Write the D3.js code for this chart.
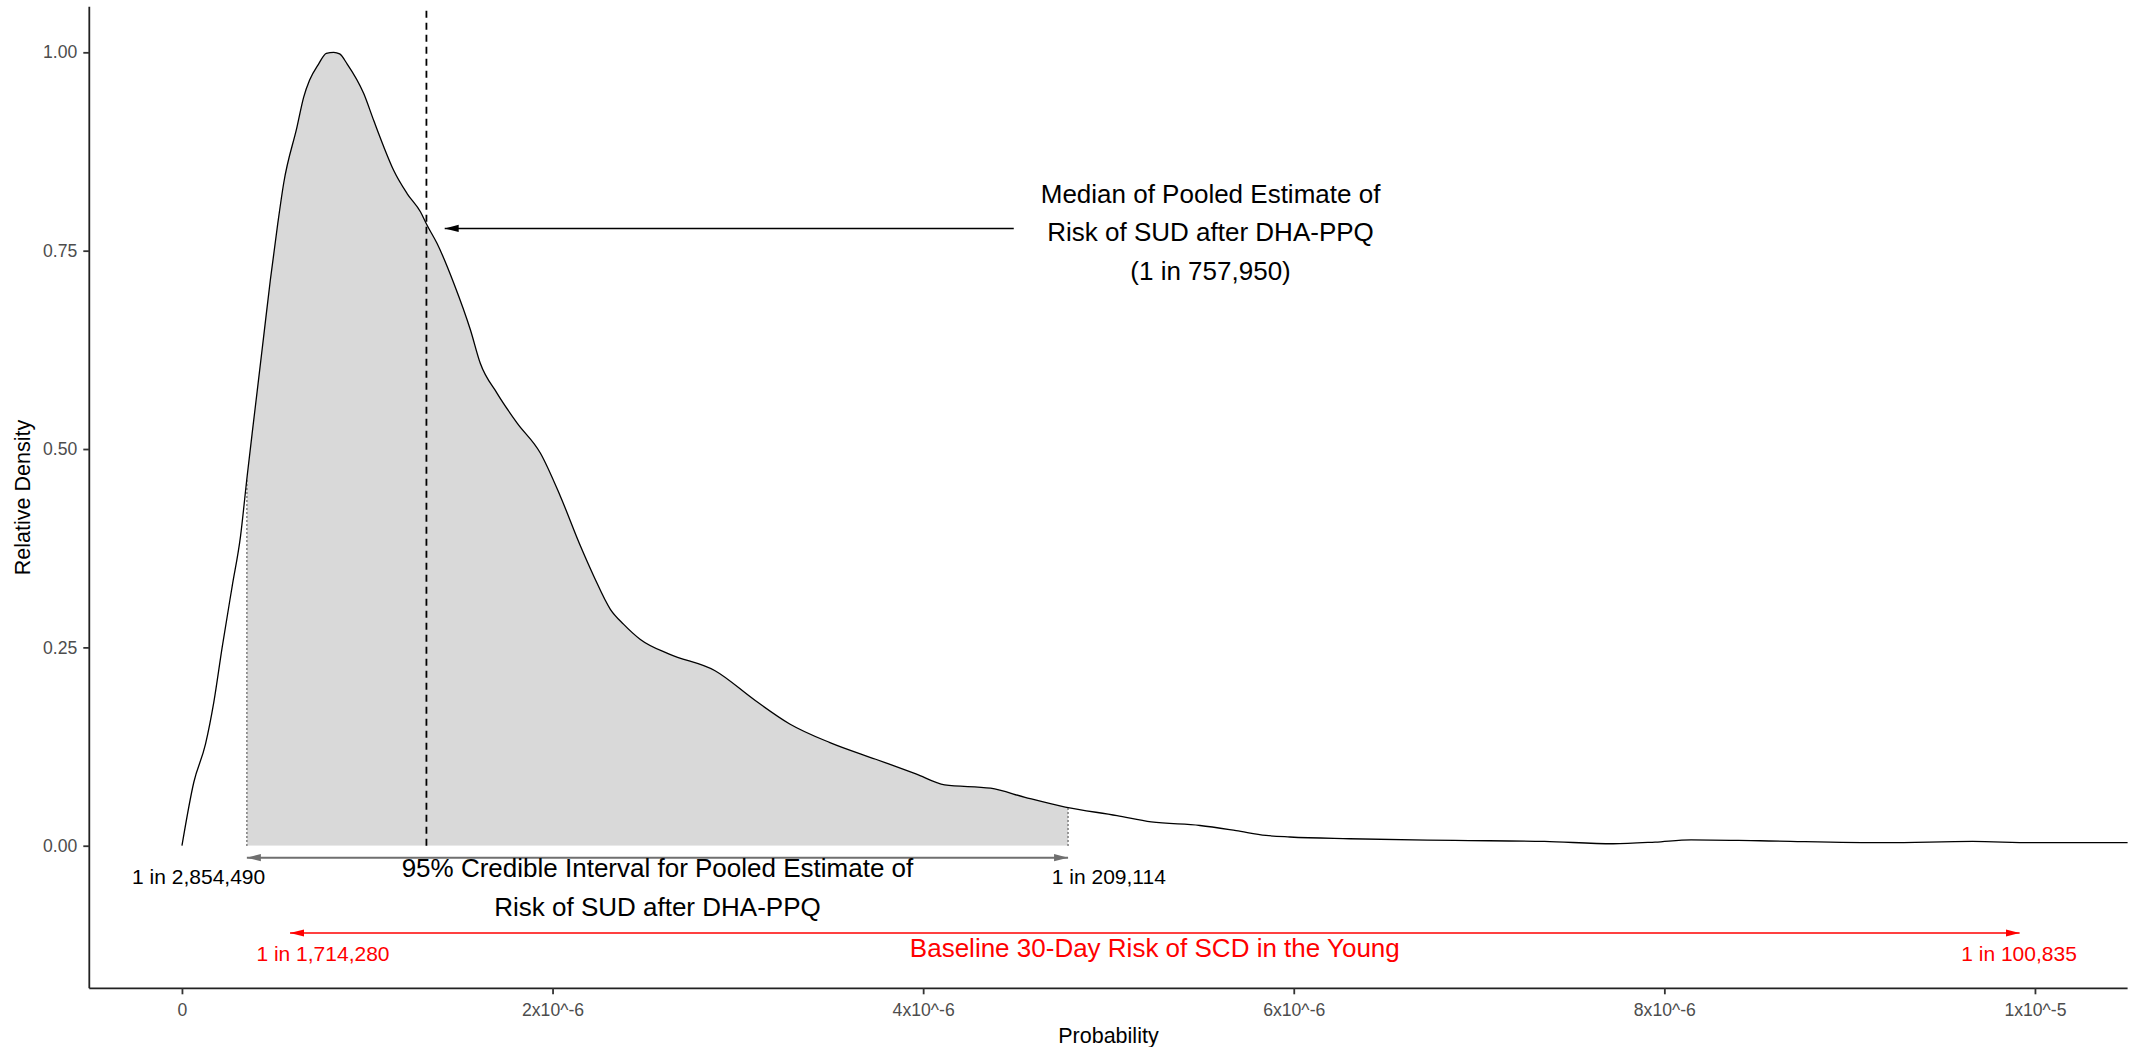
<!DOCTYPE html>
<html><head><meta charset="utf-8">
<script src="https://cdn.jsdelivr.net/npm/d3@7"></script>
<style>
body{margin:0;background:#fff}
svg{display:block}
text{font-family:"Liberation Sans",Arial,Helvetica,sans-serif}
</style>
</head><body>
<svg id="chart" width="2139" height="1047"></svg>
<script>
// ---- data ----
const probability = [0, 0.064e-6, 0.127e-6, 0.172e-6, 0.217e-6, 0.271e-6, 0.316e-6, 0.352e-6, 0.379e-6, 0.406e-6,
  0.441e-6, 0.477e-6, 0.517e-6, 0.549e-6, 0.621e-6, 0.657e-6, 0.689e-6, 0.738e-6, 0.779e-6, 0.819e-6, 0.851e-6, 0.891e-6, 0.981e-6,
  1.035e-6, 1.089e-6, 1.143e-6, 1.215e-6, 1.287e-6, 1.323e-6, 1.377e-6, 1.467e-6, 1.557e-6, 1.610e-6,
  1.700e-6, 1.808e-6, 1.934e-6, 2.042e-6, 2.150e-6, 2.222e-6, 2.312e-6, 2.384e-6, 2.474e-6, 2.630e-6,
  2.877e-6, 3.094e-6, 3.280e-6, 3.497e-6, 3.744e-6, 3.961e-6, 4.116e-6, 4.364e-6, 4.550e-6, 4.767e-6,
  5.046e-6, 5.231e-6, 5.494e-6, 5.689e-6, 5.850e-6, 5.979e-6, 6.302e-6, 6.868e-6, 7.353e-6, 7.724e-6,
  7.950e-6, 8.144e-6, 8.516e-6, 9.194e-6, 9.663e-6, 9.985e-6, 10.6e-6];
const relativeDensity = [0, 0.080, 0.128, 0.181, 0.250, 0.327, 0.390, 0.466, 0.520, 0.573,
  0.642, 0.713, 0.784, 0.835, 0.906, 0.9435, 0.965, 0.9855, 0.9987, 1.0, 0.998, 0.9855, 0.948,
  0.914, 0.881, 0.851, 0.822, 0.799, 0.782, 0.759, 0.709, 0.650, 0.608,
  0.5705, 0.533, 0.495, 0.4405, 0.378, 0.340, 0.298, 0.279, 0.260, 0.2415,
  0.2205, 0.183, 0.1535, 0.130, 0.109, 0.0905, 0.0767, 0.0725, 0.061, 0.0487,
  0.038, 0.030, 0.0255, 0.019, 0.013, 0.011, 0.0088, 0.0067, 0.0054, 0.0025,
  0.0046, 0.0075, 0.0063, 0.0038, 0.0054, 0.0038, 0.0038];

const xTickValues = [0, 2e-6, 4e-6, 6e-6, 8e-6, 1e-5];
const xTickLabels = ["0", "2x10^-6", "4x10^-6", "6x10^-6", "8x10^-6", "1x10^-5"];
const yTickValues = [0, 0.25, 0.5, 0.75, 1];
const yTickLabels = ["0.00", "0.25", "0.50", "0.75", "1.00"];

const medianRisk = 1 / 757950;
const ciLowerRisk = 1 / 2854490;
const ciUpperRisk = 1 / 209114;
const baselineLowRisk = 1 / 1714280;
const baselineHighRisk = 1 / 100835;

const medianLabel = ["Median of Pooled Estimate of", "Risk of SUD after DHA-PPQ", "(1 in 757,950)"];
const ciLabel = ["95% Credible Interval for Pooled Estimate of", "Risk of SUD after DHA-PPQ"];
const ciLowerLabel = "1 in 2,854,490";
const ciUpperLabel = "1 in 209,114";
const baselineLabel = "Baseline 30-Day Risk of SCD in the Young";
const baselineLowLabel = "1 in 1,714,280";
const baselineHighLabel = "1 in 100,835";
const xTitle = "Probability";
const yTitle = "Relative Density";

// ---- layout ----
const svg = d3.select("#chart");
const panel = {left: 89.3, right: 2127.6, top: 6.7, bottom: 988.3};
const x = d3.scaleLinear().domain([-0.5e-6, 10.5e-6]).range([panel.left, panel.right]);
const y = d3.scaleLinear().domain([-0.1797, 1.0575]).range([panel.bottom, panel.top]);

const pts = probability.map((p, i) => [p, relativeDensity[i]]);
function densityAt(p) {
  for (let i = 1; i < pts.length; i++) {
    if (p <= pts[i][0]) {
      const t = (p - pts[i-1][0]) / (pts[i][0] - pts[i-1][0]);
      return pts[i-1][1] + t * (pts[i][1] - pts[i-1][1]);
    }
  }
  return pts[pts.length-1][1];
}

const defs = svg.append("defs");
defs.append("clipPath").attr("id", "panelClip").append("rect")
  .attr("x", panel.left).attr("y", panel.top)
  .attr("width", panel.right - panel.left).attr("height", panel.bottom - panel.top);
defs.append("clipPath").attr("id", "ciClip").append("rect")
  .attr("x", x(ciLowerRisk)).attr("y", panel.top)
  .attr("width", x(ciUpperRisk) - x(ciLowerRisk)).attr("height", y(0) - panel.top);

function marker(id, color) {
  defs.append("marker").attr("id", id)
    .attr("viewBox", "0 -5 16 10").attr("refX", 14).attr("refY", 0)
    .attr("markerUnits", "userSpaceOnUse")
    .attr("markerWidth", 16).attr("markerHeight", 10)
    .attr("orient", "auto-start-reverse")
    .append("path").attr("d", "M0,-3.6L14,0L0,3.6Z").attr("fill", color);
}
marker("arrBlack", "#000");
marker("arrGrey", "#6f6f6f");
marker("arrRed", "#ff0000");

const g = svg.append("g").attr("clip-path", "url(#panelClip)");
const curve = d3.curveMonotoneX;

// shaded credible interval
g.append("path")
  .attr("clip-path", "url(#ciClip)")
  .attr("d", d3.area().curve(curve).x(d => x(d[0])).y0(y(0)).y1(d => y(d[1]))(pts))
  .attr("fill", "#d9d9d9");

// dotted CI bounds
[ciLowerRisk, ciUpperRisk].forEach(p => {
  g.append("line")
    .attr("x1", x(p)).attr("x2", x(p))
    .attr("y1", y(0)).attr("y2", y(densityAt(p)))
    .attr("stroke", "#333").attr("stroke-width", 1.2)
    .attr("stroke-dasharray", "1.5,2.5");
});

// density line
g.append("path")
  .attr("d", d3.line().curve(curve).x(d => x(d[0])).y(d => y(d[1]))(pts))
  .attr("fill", "none").attr("stroke", "#000").attr("stroke-width", 1.3);

// median dashed line
g.append("line")
  .attr("x1", x(medianRisk)).attr("x2", x(medianRisk))
  .attr("y1", y(0)).attr("y2", panel.top)
  .attr("stroke", "#000").attr("stroke-width", 1.8)
  .attr("stroke-dasharray", "7,5");

// median arrow
g.append("line")
  .attr("x1", x(4.489e-6)).attr("x2", x(1.418e-6))
  .attr("y1", y(0.778)).attr("y2", y(0.778))
  .attr("stroke", "#000").attr("stroke-width", 1.6)
  .attr("marker-end", "url(#arrBlack)");

// CI arrow
g.append("line")
  .attr("x1", x(ciLowerRisk)).attr("x2", x(ciUpperRisk))
  .attr("y1", y(-0.015)).attr("y2", y(-0.015))
  .attr("stroke", "#6f6f6f").attr("stroke-width", 2)
  .attr("marker-start", "url(#arrGrey)").attr("marker-end", "url(#arrGrey)");

// baseline arrow
g.append("line")
  .attr("x1", x(baselineLowRisk)).attr("x2", x(baselineHighRisk))
  .attr("y1", y(-0.11)).attr("y2", y(-0.11))
  .attr("stroke", "#ff0000").attr("stroke-width", 1.5)
  .attr("marker-start", "url(#arrRed)").attr("marker-end", "url(#arrRed)");

// ---- text annotations ----
function multiText(lines, cx, cyCenter, size, color, spacing) {
  const t = svg.append("text")
    .attr("text-anchor", "middle").attr("font-size", size).attr("fill", color);
  const n = lines.length;
  lines.forEach((ln, i) => {
    t.append("tspan").attr("x", cx)
      .attr("y", cyCenter + (i - (n - 1) / 2) * spacing)
      .attr("dominant-baseline", "central").text(ln);
  });
}
multiText(medianLabel, x(5.551e-6), y(0.7734), 26, "#000", 38.5);
multiText(ciLabel, x((ciLowerRisk + ciUpperRisk) / 2), y(-0.053), 26, "#000", 38.7);
multiText([baselineLabel], x((baselineLowRisk + baselineHighRisk) / 2), y(-0.129), 26, "#ff0000", 0);
multiText([ciLowerLabel], x(0.09e-6), y(-0.039), 21, "#000", 0);
multiText([ciUpperLabel], x(5.002e-6), y(-0.039), 21, "#000", 0);
multiText([baselineLowLabel], x(0.761e-6), y(-0.1356), 21, "#ff0000", 0);
multiText([baselineHighLabel], x(9.914e-6), y(-0.1356), 21, "#ff0000", 0);

// ---- axes ----
const xAxis = svg.append("g").attr("transform", `translate(0,${panel.bottom})`)
  .call(d3.axisBottom(x).tickValues(xTickValues).tickFormat((d, i) => xTickLabels[i])
    .tickSize(6).tickSizeOuter(0).tickPadding(9));
const yAxis = svg.append("g").attr("transform", `translate(${panel.left},0)`)
  .call(d3.axisLeft(y).tickValues(yTickValues).tickFormat((d, i) => yTickLabels[i])
    .tickSize(6).tickSizeOuter(0).tickPadding(6));
[xAxis, yAxis].forEach(a => {
  a.select(".domain").attr("stroke", "#222").attr("stroke-width", 1.8);
  a.selectAll(".tick line").attr("stroke", "#333").attr("stroke-width", 1.8);
  a.selectAll(".tick text").attr("fill", "#4d4d4d").attr("font-size", 17.6)
    .attr("font-family", '"Liberation Sans",Arial,sans-serif');
});
xAxis.select(".domain").attr("d", `M${panel.left},0H${panel.right}`);
yAxis.select(".domain").attr("d", `M0,${panel.top}V${panel.bottom}`);

svg.append("text").attr("x", (panel.left + panel.right) / 2).attr("y", 1036)
  .attr("text-anchor", "middle").attr("dominant-baseline", "central")
  .attr("font-size", 21.5).attr("fill", "#000").text(xTitle);
svg.append("text")
  .attr("transform", `translate(23,${(panel.top + panel.bottom) / 2}) rotate(-90)`)
  .attr("text-anchor", "middle").attr("dominant-baseline", "central")
  .attr("font-size", 21.5).attr("fill", "#000").text(yTitle);
</script>
</body></html>
